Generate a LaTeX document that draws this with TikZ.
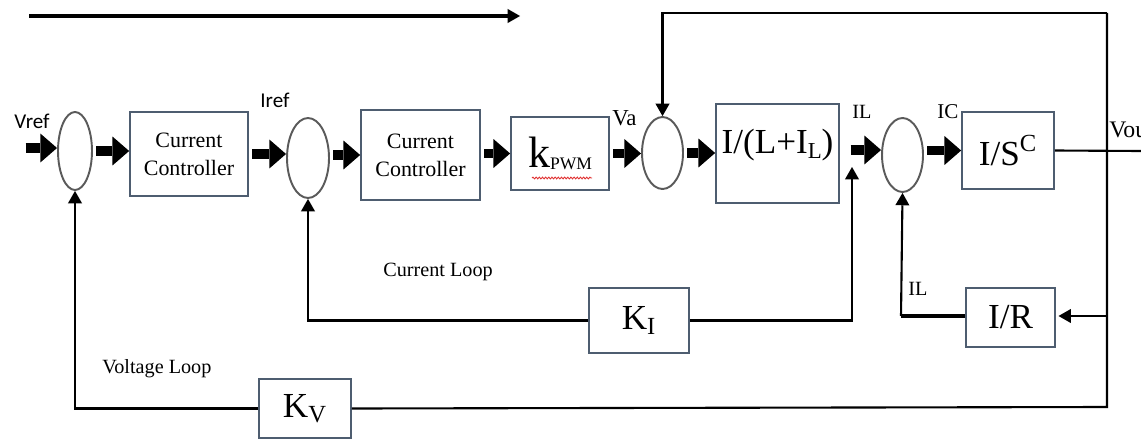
\documentclass[tikz,border=0pt]{standalone}
\usepackage{fontspec}
\setmainfont{Liberation Serif}
\newfontfamily\calibri{Carlito}
\usepackage{tikz}
\usetikzlibrary{arrows.meta,positioning,shapes.geometric,decorations.pathmorphing}
\definecolor{BoxEdge}     {HTML}{4E5D70}
\definecolor{SumEdge}     {HTML}{5A5A5A}
\definecolor{SquiggleRed} {HTML}{E03030}
\tikzset{
  BlockBox/.style={draw=BoxEdge,line width=1pt,inner sep=0pt,align=center},
  SumNode/.style={draw=SumEdge,ellipse,line width=1.1pt,inner sep=0pt},
  FatArrow/.style={line width=5.2pt,shorten <=2pt,
    -{Triangle[length=9.5pt,width=16.5pt,line width=0pt]}},
  ThinArrow/.style={line width=1.2pt,
    -{Triangle[length=7pt,width=8pt,line width=0pt]}},
  WireLine/.style={line width=1.2pt},
  SigLabel/.style={inner sep=0pt,anchor=base west}
}

\begin{document}
\begin{tikzpicture}[x=0.02cm,y=-0.02cm]
  \useasboundingbox (0,0) rectangle (1141,439);

  % forward path
  \node[SumNode,minimum width=0.68cm,minimum height=1.56cm] (sumA) at (75,151) {};
  \node[BlockBox,minimum width=2.36cm,minimum height=1.68cm,
        font=\fontsize{12.5}{16}\selectfont] (ctrlA) at (189,154) {Current\\Controller};
  \node[SumNode,minimum width=0.84cm,minimum height=1.6cm] (sumB) at (308,158) {};
  \node[BlockBox,minimum width=2.38cm,minimum height=1.8cm,
        font=\fontsize{12.5}{16}\selectfont] (ctrlB) at (420.5,155) {Current\\Controller};
  \node[BlockBox,minimum width=1.96cm,minimum height=1.46cm,
        font=\fontsize{25}{25}\selectfont] (pwm) at (560,153.5)
        {k\raisebox{-1pt}{\fontsize{10}{10}\selectfont PWM}};
  \node[SumNode,minimum width=0.82cm,minimum height=1.44cm] (sumC) at (662.5,153) {};
  \node[BlockBox,minimum width=2.46cm,minimum height=1.98cm,text height=0.6cm,
        text depth=0.6cm,font=\fontsize{20}{20}\selectfont] (plant) at (777.5,153.5)
        {I/(L+I\raisebox{-3pt}{\fontsize{13}{13}\selectfont L})};
  \node[SumNode,minimum width=0.82cm,minimum height=1.48cm] (sumD) at (902.5,155) {};
  \node[BlockBox,minimum width=1.84cm,minimum height=1.54cm,
        font=\fontsize{20}{20}\selectfont] (cap) at (1008,150.5) {I/S\textsuperscript{C}};

  % feedback blocks
  \node[BlockBox,minimum width=2cm,minimum height=1.3cm,
        font=\fontsize{20}{20}\selectfont] (kI) at (639,320.5) {K\textsubscript{I}};
  \node[BlockBox,minimum width=1.78cm,minimum height=1.18cm,
        font=\fontsize{20}{20}\selectfont] (rload) at (1010.5,317.5) {I/R};
  \node[BlockBox,minimum width=1.84cm,minimum height=1.18cm,
        font=\fontsize{20}{20}\selectfont] (kV) at (305,408.5) {K\textsubscript{V}};

  \coordinate (vin)     at (22,148);
  \coordinate (ilStart) at (847,150);
  \coordinate (ilTap)   at (852,167);
  \coordinate (tapTop)  at (1107,13);
  \coordinate (tapR)    at (1107,316);
  \coordinate (tapBot)  at (1107,407);
  \coordinate (voutEnd) at (1141,151);
  \coordinate (fbD)     at (901,316);
  \coordinate (topL)    at (29,16);
  \coordinate (topR)    at (520,16);

  \draw[FatArrow] (vin) -- (vin -| sumA.west);
  \draw[FatArrow] (sumA.east) -- (ctrlA.west |- sumA.east);
  \draw[FatArrow] (ctrlA.east) -- (sumB.west |- ctrlA.east);
  \draw[FatArrow] (ctrlB.west -| sumB.east) -- (ctrlB.west);
  \draw[FatArrow] (pwm.west -| ctrlB.east) -- (pwm.west);
  \draw[FatArrow] (pwm.east) -- (sumC.west |- pwm.east);
  \draw[FatArrow] (sumC.east) -- (plant.west |- sumC.east);
  \draw[FatArrow] (ilStart) -- (sumD.west |- ilStart);
  \draw[FatArrow] (cap.west -| sumD.east) -- (cap.west);

  \draw[ThinArrow,line width=1.8pt] (topL) -- (topR);
  \draw[ThinArrow] (tapTop) -| (sumC.north);
  \draw[WireLine] (tapTop) -- (tapBot) -- (kV.east);
  \draw[ThinArrow] (kV.west) -| (sumA.south);
  \draw[WireLine] (cap.east) -- (voutEnd);
  \draw[ThinArrow,shorten >=1.5pt] (tapR) -- (tapR -| rload.east);
  \draw[line width=2.4pt] (fbD -| rload.west) -- (fbD);
  \draw[ThinArrow] (fbD) -- (sumD.south);
  \draw[ThinArrow] (kI.west) -| (sumB.south);
  \draw[ThinArrow] (kI.east) -| (ilTap);

  \draw[SquiggleRed,line width=0.5pt,decorate,
        decoration={snake,amplitude=0.5pt,segment length=1.8pt}] (532,178) -- (592,178);

  % signal names
  \node[SigLabel,font=\calibri\fontsize{12}{12}\selectfont] (vrefLbl) at (14,128) {Vref};
  \node[SigLabel,font=\calibri\fontsize{12}{12}\selectfont] (irefLbl) at (260,108) {Iref};
  \node[SigLabel,font=\fontsize{13}{13}\selectfont] (vaLbl) at (612,125) {Va};
  \node[SigLabel,font=\fontsize{11.5}{11}\selectfont] (ilLbl) at (852,118) {IL};
  \node[SigLabel,font=\fontsize{12}{12}\selectfont] (icLbl) at (937,118) {IC};
  \node[SigLabel,font=\fontsize{13.5}{14}\selectfont] (voutLbl) at (1109,137) {Vout};
  \node[SigLabel,font=\fontsize{11.5}{11}\selectfont] (ilFbLbl) at (908,295) {IL};
  \node[SigLabel,font=\fontsize{11.5}{11}\selectfont] (curLoop) at (383,276) {Current Loop};
  \node[SigLabel,font=\fontsize{11.5}{11}\selectfont] (volLoop) at (102,373) {Voltage Loop};
\end{tikzpicture}
\end{document}
